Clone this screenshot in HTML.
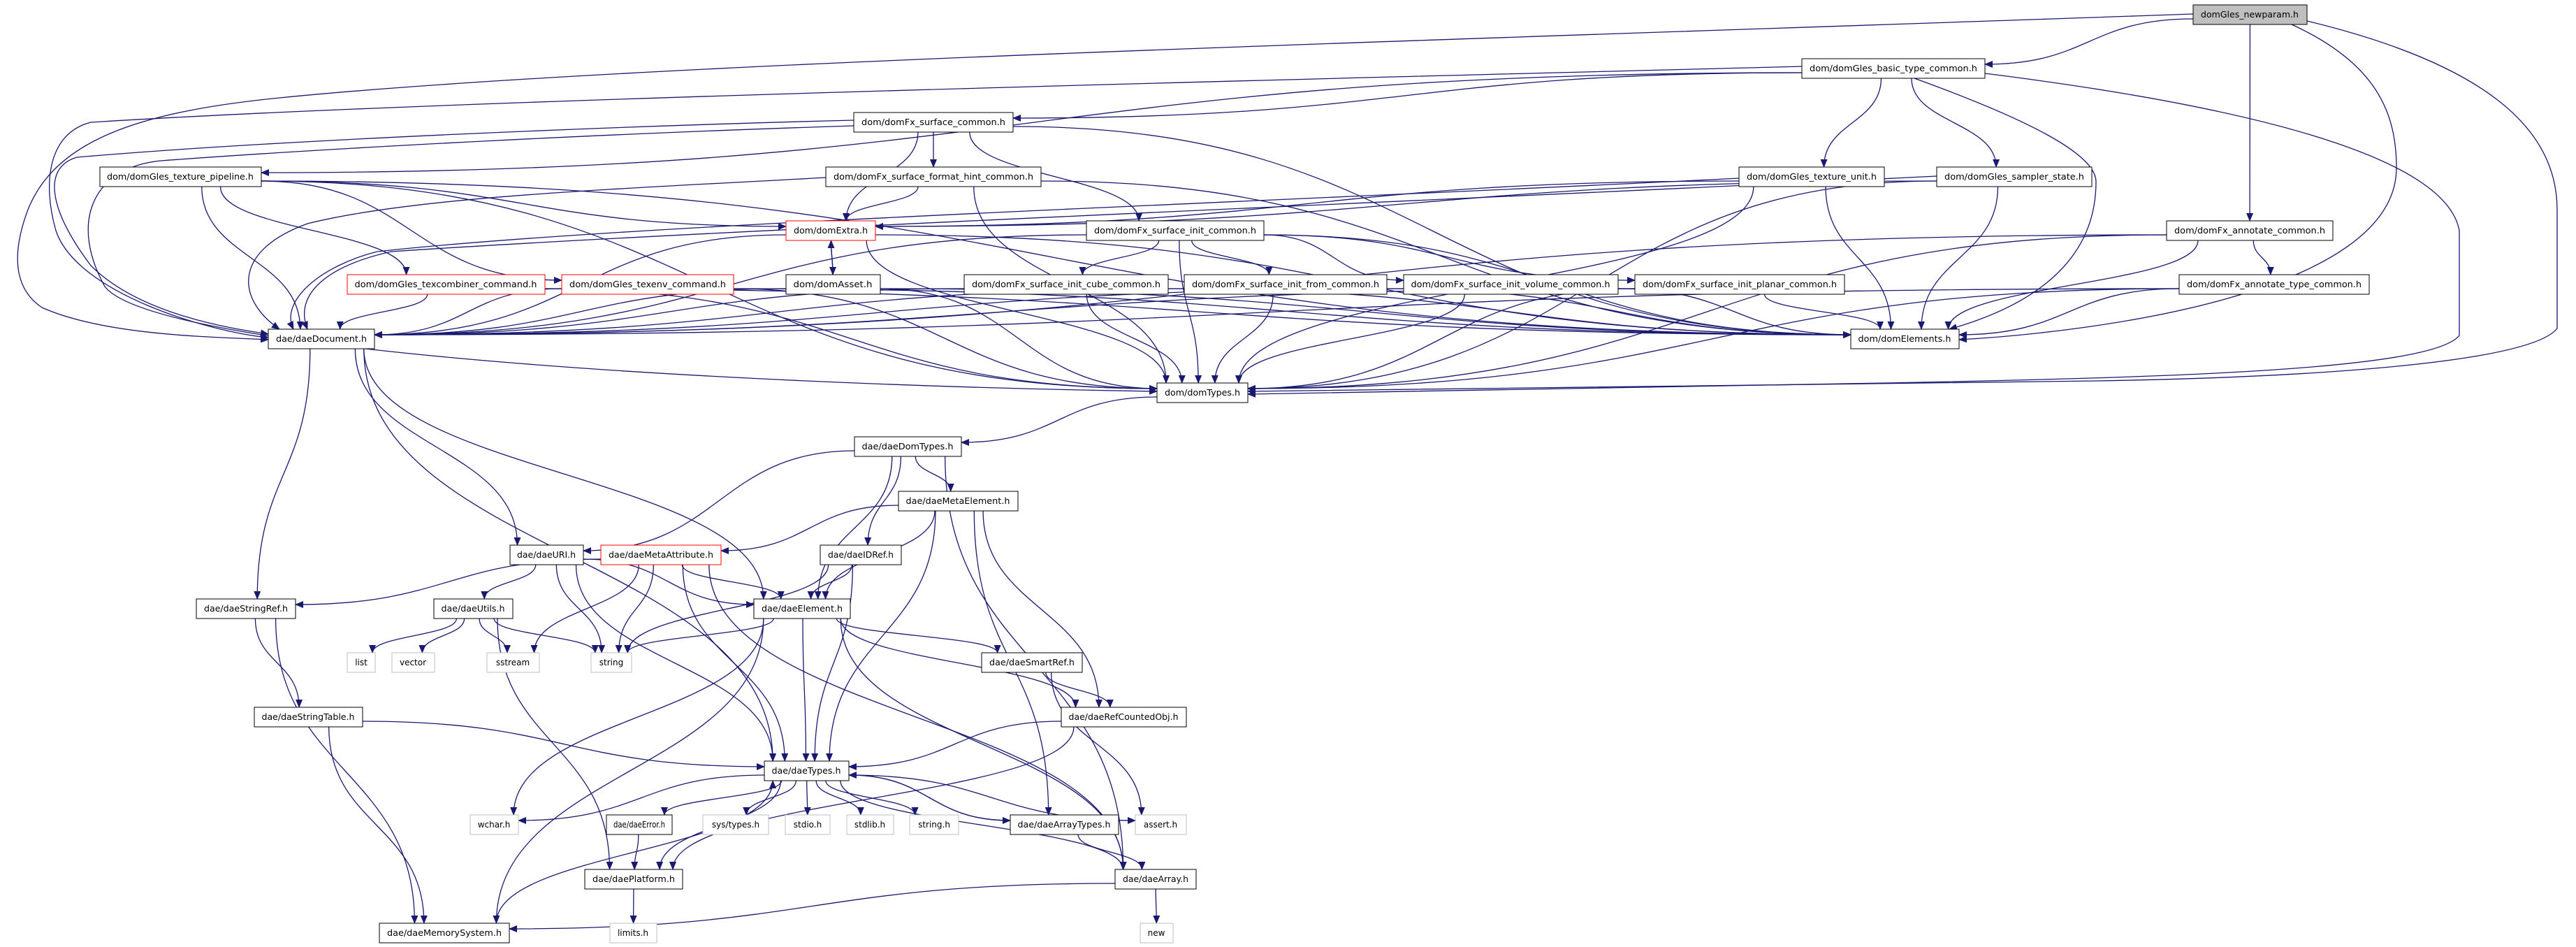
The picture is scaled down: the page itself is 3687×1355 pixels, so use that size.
<!DOCTYPE html>
<html><head><meta charset="utf-8"><style>
html,body{margin:0;padding:0;background:#fff;}
svg{display:block;}
text{font-family:"DejaVu Sans","Liberation Sans",sans-serif;font-size:12px;fill:#000;}
</style></head><body>
<svg id="g" width="3687" height="1355" viewBox="0 0 3687 1355" xmlns="http://www.w3.org/2000/svg">
<defs><marker id="a" markerWidth="12" markerHeight="10" refX="11" refY="5" orient="auto" markerUnits="userSpaceOnUse"><path d="M0,0 L12,5 L0,10 z" fill="#191970"/></marker></defs>
<g id="edges" fill="none" stroke="#191970" stroke-width="1.3"></g>
<g id="nodes">
<rect x="3139" y="7" width="163" height="28" fill="#bfbfbf" stroke="#000"/><text x="3220" y="25" text-anchor="middle" textLength="140" lengthAdjust="spacingAndGlyphs">domGles_newparam.h</text>
<rect x="2579" y="84" width="262" height="28" fill="#fff" stroke="#000"/><text x="2710" y="102" text-anchor="middle" textLength="240" lengthAdjust="spacingAndGlyphs">dom/domGles_basic_type_common.h</text>
<rect x="1222" y="161" width="228" height="28" fill="#fff" stroke="#000"/><text x="1336" y="179" text-anchor="middle" textLength="206" lengthAdjust="spacingAndGlyphs">dom/domFx_surface_common.h</text>
<rect x="143" y="239" width="231" height="28" fill="#fff" stroke="#000"/><text x="258" y="257" text-anchor="middle" textLength="210" lengthAdjust="spacingAndGlyphs">dom/domGles_texture_pipeline.h</text>
<rect x="1182" y="239" width="308" height="28" fill="#fff" stroke="#000"/><text x="1336" y="257" text-anchor="middle" textLength="286" lengthAdjust="spacingAndGlyphs">dom/domFx_surface_format_hint_common.h</text>
<rect x="2489" y="239" width="208" height="28" fill="#fff" stroke="#000"/><text x="2593" y="257" text-anchor="middle" textLength="186" lengthAdjust="spacingAndGlyphs">dom/domGles_texture_unit.h</text>
<rect x="2772" y="239" width="222" height="28" fill="#fff" stroke="#000"/><text x="2883" y="257" text-anchor="middle" textLength="200" lengthAdjust="spacingAndGlyphs">dom/domGles_sampler_state.h</text>
<rect x="1125" y="316" width="128" height="28" fill="#fff" stroke="#ff0000"/><text x="1189" y="334" text-anchor="middle" textLength="106" lengthAdjust="spacingAndGlyphs">dom/domExtra.h</text>
<rect x="1555" y="316" width="254" height="28" fill="#fff" stroke="#000"/><text x="1682" y="334" text-anchor="middle" textLength="232" lengthAdjust="spacingAndGlyphs">dom/domFx_surface_init_common.h</text>
<rect x="3101" y="316" width="238" height="28" fill="#fff" stroke="#000"/><text x="3220" y="334" text-anchor="middle" textLength="216" lengthAdjust="spacingAndGlyphs">dom/domFx_annotate_common.h</text>
<rect x="497" y="393" width="283" height="28" fill="#fff" stroke="#ff0000"/><text x="638" y="411" text-anchor="middle" textLength="261" lengthAdjust="spacingAndGlyphs">dom/domGles_texcombiner_command.h</text>
<rect x="804" y="393" width="246" height="28" fill="#fff" stroke="#ff0000"/><text x="927" y="411" text-anchor="middle" textLength="224" lengthAdjust="spacingAndGlyphs">dom/domGles_texenv_command.h</text>
<rect x="1125" y="393" width="135" height="28" fill="#fff" stroke="#000"/><text x="1192" y="411" text-anchor="middle" textLength="113" lengthAdjust="spacingAndGlyphs">dom/domAsset.h</text>
<rect x="1380" y="393" width="292" height="28" fill="#fff" stroke="#000"/><text x="1526" y="411" text-anchor="middle" textLength="270" lengthAdjust="spacingAndGlyphs">dom/domFx_surface_init_cube_common.h</text>
<rect x="1695" y="393" width="290" height="28" fill="#fff" stroke="#000"/><text x="1840" y="411" text-anchor="middle" textLength="268" lengthAdjust="spacingAndGlyphs">dom/domFx_surface_init_from_common.h</text>
<rect x="2009" y="393" width="307" height="28" fill="#fff" stroke="#000"/><text x="2162" y="411" text-anchor="middle" textLength="285" lengthAdjust="spacingAndGlyphs">dom/domFx_surface_init_volume_common.h</text>
<rect x="2340" y="393" width="300" height="28" fill="#fff" stroke="#000"/><text x="2490" y="411" text-anchor="middle" textLength="278" lengthAdjust="spacingAndGlyphs">dom/domFx_surface_init_planar_common.h</text>
<rect x="3119" y="393" width="272" height="28" fill="#fff" stroke="#000"/><text x="3255" y="411" text-anchor="middle" textLength="250" lengthAdjust="spacingAndGlyphs">dom/domFx_annotate_type_common.h</text>
<rect x="384" y="471" width="152" height="28" fill="#fff" stroke="#000"/><text x="460" y="489" text-anchor="middle" textLength="130" lengthAdjust="spacingAndGlyphs">dae/daeDocument.h</text>
<rect x="2649" y="471" width="155" height="28" fill="#fff" stroke="#000"/><text x="2726" y="489" text-anchor="middle" textLength="133" lengthAdjust="spacingAndGlyphs">dom/domElements.h</text>
<rect x="1656" y="548" width="130" height="28" fill="#fff" stroke="#000"/><text x="1721" y="566" text-anchor="middle" textLength="108" lengthAdjust="spacingAndGlyphs">dom/domTypes.h</text>
<rect x="1223" y="625" width="153" height="28" fill="#fff" stroke="#000"/><text x="1299" y="643" text-anchor="middle" textLength="131" lengthAdjust="spacingAndGlyphs">dae/daeDomTypes.h</text>
<rect x="1286" y="703" width="171" height="28" fill="#fff" stroke="#000"/><text x="1371" y="721" text-anchor="middle" textLength="149" lengthAdjust="spacingAndGlyphs">dae/daeMetaElement.h</text>
<rect x="730" y="780" width="105" height="28" fill="#fff" stroke="#000"/><text x="782" y="798" text-anchor="middle" textLength="84" lengthAdjust="spacingAndGlyphs">dae/daeURI.h</text>
<rect x="860" y="780" width="172" height="28" fill="#fff" stroke="#ff0000"/><text x="946" y="798" text-anchor="middle" textLength="150" lengthAdjust="spacingAndGlyphs">dae/daeMetaAttribute.h</text>
<rect x="1174" y="780" width="116" height="28" fill="#fff" stroke="#000"/><text x="1232" y="798" text-anchor="middle" textLength="94" lengthAdjust="spacingAndGlyphs">dae/daeIDRef.h</text>
<rect x="281" y="857" width="142" height="28" fill="#fff" stroke="#000"/><text x="352" y="875" text-anchor="middle" textLength="120" lengthAdjust="spacingAndGlyphs">dae/daeStringRef.h</text>
<rect x="621" y="857" width="113" height="28" fill="#fff" stroke="#000"/><text x="677" y="875" text-anchor="middle" textLength="91" lengthAdjust="spacingAndGlyphs">dae/daeUtils.h</text>
<rect x="1079" y="857" width="138" height="28" fill="#fff" stroke="#000"/><text x="1148" y="875" text-anchor="middle" textLength="116" lengthAdjust="spacingAndGlyphs">dae/daeElement.h</text>
<rect x="497" y="934" width="40" height="28" fill="#fff" stroke="#bfbfbf"/><text x="517" y="952" text-anchor="middle">list</text>
<rect x="561" y="934" width="61" height="28" fill="#fff" stroke="#bfbfbf"/><text x="591" y="952" text-anchor="middle">vector</text>
<rect x="697" y="934" width="75" height="28" fill="#fff" stroke="#bfbfbf"/><text x="734" y="952" text-anchor="middle">sstream</text>
<rect x="846" y="934" width="58" height="28" fill="#fff" stroke="#bfbfbf"/><text x="875" y="952" text-anchor="middle">string</text>
<rect x="1405" y="934" width="144" height="28" fill="#fff" stroke="#000"/><text x="1477" y="952" text-anchor="middle" textLength="122" lengthAdjust="spacingAndGlyphs">dae/daeSmartRef.h</text>
<rect x="364" y="1012" width="155" height="28" fill="#fff" stroke="#000"/><text x="441" y="1030" text-anchor="middle" textLength="133" lengthAdjust="spacingAndGlyphs">dae/daeStringTable.h</text>
<rect x="1519" y="1012" width="179" height="28" fill="#fff" stroke="#000"/><text x="1608" y="1030" text-anchor="middle" textLength="157" lengthAdjust="spacingAndGlyphs">dae/daeRefCountedObj.h</text>
<rect x="1094" y="1089" width="121" height="28" fill="#fff" stroke="#000"/><text x="1154" y="1107" text-anchor="middle" textLength="99" lengthAdjust="spacingAndGlyphs">dae/daeTypes.h</text>
<rect x="673" y="1166" width="69" height="28" fill="#fff" stroke="#bfbfbf"/><text x="707" y="1184" text-anchor="middle">wchar.h</text>
<rect x="868" y="1166" width="94" height="28" fill="#fff" stroke="#000"/><text x="915" y="1184" text-anchor="middle" textLength="74" lengthAdjust="spacingAndGlyphs">dae/daeError.h</text>
<rect x="1006" y="1166" width="94" height="28" fill="#fff" stroke="#bfbfbf"/><text x="1053" y="1184" text-anchor="middle">sys/types.h</text>
<rect x="1124" y="1166" width="64" height="28" fill="#fff" stroke="#bfbfbf"/><text x="1156" y="1184" text-anchor="middle">stdio.h</text>
<rect x="1212" y="1166" width="67" height="28" fill="#fff" stroke="#bfbfbf"/><text x="1245" y="1184" text-anchor="middle">stdlib.h</text>
<rect x="1302" y="1166" width="70" height="28" fill="#fff" stroke="#bfbfbf"/><text x="1337" y="1184" text-anchor="middle">string.h</text>
<rect x="1446" y="1166" width="155" height="28" fill="#fff" stroke="#000"/><text x="1523" y="1184" text-anchor="middle" textLength="133" lengthAdjust="spacingAndGlyphs">dae/daeArrayTypes.h</text>
<rect x="1625" y="1166" width="73" height="28" fill="#fff" stroke="#bfbfbf"/><text x="1661" y="1184" text-anchor="middle">assert.h</text>
<rect x="837" y="1244" width="140" height="28" fill="#fff" stroke="#000"/><text x="907" y="1262" text-anchor="middle" textLength="118" lengthAdjust="spacingAndGlyphs">dae/daePlatform.h</text>
<rect x="1596" y="1244" width="116" height="28" fill="#fff" stroke="#000"/><text x="1654" y="1262" text-anchor="middle" textLength="94" lengthAdjust="spacingAndGlyphs">dae/daeArray.h</text>
<rect x="543" y="1321" width="186" height="28" fill="#fff" stroke="#000"/><text x="636" y="1339" text-anchor="middle" textLength="164" lengthAdjust="spacingAndGlyphs">dae/daeMemorySystem.h</text>
<rect x="873" y="1321" width="67" height="28" fill="#fff" stroke="#bfbfbf"/><text x="906" y="1339" text-anchor="middle">limits.h</text>
<rect x="1632" y="1321" width="47" height="28" fill="#fff" stroke="#bfbfbf"/><text x="1655" y="1339" text-anchor="middle">new</text>
</g>
</svg>
<script>
var N={
np:[3139,7,163],bt:[2579,84,262],sc:[1222,161,228],tp:[143,239,231],fh:[1182,239,308],tu:[2489,239,208],ss:[2772,239,222],
ex:[1125,316,128],si:[1555,316,254],ac:[3101,316,238],tc:[497,393,283],te:[804,393,246],as:[1125,393,135],cu:[1380,393,292],
fr:[1695,393,290],vo:[2009,393,307],pl:[2340,393,300],at:[3119,393,272],dd:[384,471,152],de:[2649,471,155],dt:[1656,548,130],
ddt:[1223,625,153],me:[1286,703,171],uri:[730,780,105],ma:[860,780,172],id:[1174,780,116],sr:[281,857,142],ut:[621,857,113],
el:[1079,857,138],li:[497,934,40],ve:[561,934,61],sst:[697,934,75],st:[846,934,58],sm:[1405,934,144],stt:[364,1012,155],
rc:[1519,1012,179],ty:[1094,1089,121],wc:[673,1166,69],er:[868,1166,94],sy:[1006,1166,94],sd:[1124,1166,64],sl:[1212,1166,67],
sh:[1302,1166,70],aty:[1446,1166,155],asr:[1625,1166,73],pf:[837,1244,140],ar:[1596,1244,116],ms:[543,1321,186],lm:[873,1321,67],nw:[1632,1321,47]};
var C={
"np-dd":"M3139,20 C2000,60 900,90 400,140 C200,160 80,200 40,300 C10,380 30,420 60,440 C150,480 300,482 384,486",
"np-dt":"M3302,30 C3550,90 3660,180 3660,300 L3660,470 C3620,520 3300,540 3000,545 C2500,552 2000,556 1786,560",
"np-de":"M3280,35 C3400,90 3430,160 3430,240 C3430,420 3000,475 2804,486",
"bt-dt":"M2841,105 C3200,150 3500,220 3520,330 L3520,480 C3480,530 3100,540 2700,548 C2300,556 2000,560 1786,564",
"bt-dd":"M2579,95 C1600,120 600,145 130,175 C70,190 60,260 80,330 C110,420 300,475 384,483",
"sc-dd":"M1222,172 C900,180 400,200 110,225 C60,240 70,300 130,380 C200,450 330,470 384,478",
"sc-dt":"M1222,180 C900,190 500,210 230,230 C130,240 100,320 150,410 C220,500 1000,550 1656,560",
"bt-de":"M2740,112 C2900,170 3000,220 3000,260 C3000,380 2900,440 2790,471",
"ss-dd":"M2772,252 C2000,290 1000,330 560,360 C470,380 420,420 440,471",
"tu-dd":"M2489,255 C1800,290 900,320 540,360 C460,380 400,430 420,471",
"fh-dd":"M1182,254 C900,270 600,280 440,320 C330,360 340,430 400,471"};
var E="np-bt np-dd np-ac np-de np-dt bt-sc bt-tp bt-tu bt-ss bt-de bt-dt bt-dd sc-fh sc-ex sc-si sc-dd sc-dt sc-de tp-tc tp-te tp-ex tp-dd tp-dt tp-de fh-ex fh-dd fh-dt fh-de tu-ex tu-dd tu-de tu-dt ss-ex ss-dd ss-de ss-dt ex-as ex-dd ex-dt ex-de as-ex as-dd as-dt as-de si-cu si-fr si-vo si-pl si-dd si-dt si-de cu-dd cu-dt cu-de fr-dd fr-dt fr-de vo-dd vo-dt vo-de pl-dd pl-dt pl-de ac-at ac-dd ac-de ac-dt at-dd at-de at-dt tc-dd tc-dt tc-de te-dd te-dt te-de dd-uri dd-sr dd-el dd-ty dt-ddt ddt-uri ddt-el ddt-me ddt-id ddt-ar me-ma me-el me-rc me-aty me-ty id-el id-ty id-st uri-ut uri-el uri-st uri-ty ma-sr ma-el ma-sst ma-st ma-ty ma-ar sr-stt sr-ms ut-li ut-ve ut-sst ut-st ut-pf el-st el-sm el-rc el-ty el-wc el-ms el-ar sm-rc sm-asr stt-ty stt-ms rc-ty rc-pf ty-wc ty-er ty-sy ty-sd ty-sl ty-sh ty-aty ty-asr ty-pf ty-ar er-pf pf-lm aty-ty aty-ar ar-nw ar-ms ms-ty".split(" ");
var g=document.getElementById("edges"),out="";
function cl(v,m){return Math.max(-m,Math.min(m,v));}
E.forEach(function(e){var d=C[e];
if(!d){var p=e.split("-"),s=N[p[0]],t=N[p[1]];
var scx=s[0]+s[2]/2,tcx=t[0]+t[2]/2,sx,sy,tx,ty;
var dyv=Math.abs((t[1]-s[1])),dxv=Math.abs(tcx-scx)-(s[2]+t[2])/2;
if(t[1]!=s[1] && dxv>2.5*dyv && dxv>0){
 var r=tcx>scx;sx=r?s[0]+s[2]:s[0];sy=s[1]+14+(t[1]>s[1]?6:-6);tx=r?t[0]:t[0]+t[2];ty=t[1]+14+(t[1]>s[1]?-6:6);
 var mx=(sx+tx)/2;d="M"+sx+","+sy+" C"+mx+","+sy+" "+mx+","+ty+" "+tx+","+ty;
}else{
if(t[1]>s[1]){sy=s[1]+28;ty=t[1];}else if(t[1]<s[1]){sy=s[1];ty=t[1]+28;}else{sy=s[1]+14;ty=t[1]+14;}
sx=scx+cl((tcx-scx)*0.15,s[2]*0.4);tx=tcx+cl((scx-tcx)*0.15,t[2]*0.4);
if(t[1]==s[1]){sx=tcx>scx?s[0]+s[2]:s[0];tx=tcx>scx?t[0]:t[0]+t[2];d="M"+sx+","+sy+" L"+tx+","+ty;}
else{var dy=(ty-sy)/2;d="M"+sx+","+sy+" C"+sx+","+(sy+dy)+" "+tx+","+(ty-dy)+" "+tx+","+ty;}}}
out+='<path d="'+d+'" marker-end="url(#a)"/>';});
g.innerHTML=out;
</script>
</body></html>
